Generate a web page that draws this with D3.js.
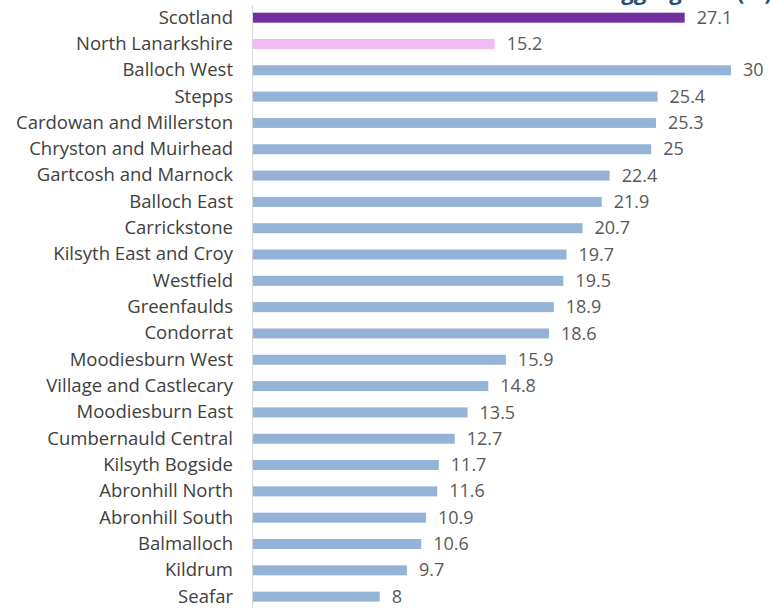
<!DOCTYPE html>
<html>
<head>
<meta charset="utf-8">
<script src="https://cdn.jsdelivr.net/npm/d3@7"></script>
<style>
  body { margin: 0; background: #fff; }
  svg { display: block; }
</style>
</head>
<body>
<script>
// data
let areas = ["Scotland", "North Lanarkshire", "Balloch West", "Stepps", "Cardowan and Millerston",
  "Chryston and Muirhead", "Gartcosh and Marnock", "Balloch East", "Carrickstone",
  "Kilsyth East and Croy", "Westfield", "Greenfaulds", "Condorrat", "Moodiesburn West",
  "Village and Castlecary", "Moodiesburn East", "Cumbernauld Central", "Kilsyth Bogside",
  "Abronhill North", "Abronhill South", "Balmalloch", "Kildrum", "Seafar"];
let values = [27.1, 15.2, 30, 25.4, 25.3, 25, 22.4, 21.9, 20.7, 19.7, 19.5, 18.9, 18.6,
  15.9, 14.8, 13.5, 12.7, 11.7, 11.6, 10.9, 10.6, 9.7, 8];
let colours = ["#7030A0", "#F4BBF2"];  // Scotland, North Lanarkshire; rest default
let barColour = "#95B3D7";

let width = 770, height = 608;
let x0 = 252;

let svg = d3.select("body").append("svg")
    .attr("width", width)
    .attr("height", height);

// title, cut off at the top edge as in the original
svg.append("text")
    .attr("x", 608)
    .attr("y", 0)
    .attr("font-family", "Open Sans, sans-serif")
    .attr("font-weight", "bold")
    .attr("font-size", 22)
    .attr("fill", "#1F4E79")
    .text("aggregated (%)");

let x = d3.scaleLinear()
    .domain([0, 30])
    .range([x0, 731]);

let y = d3.scaleBand()
    .domain(areas)
    .range([4.5, 609.8])
    .paddingInner(0.62)
    .paddingOuter(0.31);

let data = areas.map(function(a, i) { return {area: a, value: values[i], i: i}; });

svg.selectAll(".bar")
    .data(data)
    .enter().append("rect")
    .attr("class", "bar")
    .attr("x", x(0) + 1)
    .attr("y", function(d) { return y(d.area); })
    .attr("width", function(d) { return x(d.value) - x(0) - 1; })
    .attr("height", y.bandwidth())
    .attr("fill", function(d) { return d.i < 2 ? colours[d.i] : barColour; });

// category axis
let yAxis = svg.append("g")
    .attr("transform", "translate(" + x0 + ",0)")
    .call(d3.axisLeft(y).tickSize(0).tickPadding(19));
yAxis.select(".domain").attr("d", "M0.5,5V608").attr("stroke", "#D9D9D9");
yAxis.selectAll("text")
    .attr("font-family", "Open Sans, sans-serif")
    .attr("font-size", 18.5)
    .attr("fill", "#404040");

// value labels
svg.selectAll(".lbl")
    .data(data)
    .enter().append("text")
    .attr("class", "lbl")
    .attr("x", function(d) { return x(d.value) + 12; })
    .attr("y", function(d) { return y(d.area) + y.bandwidth() / 2; })
    .attr("dy", "0.34em")
    .attr("font-family", "Open Sans, sans-serif")
    .attr("font-size", 18)
    .attr("fill", "#595959")
    .text(function(d) { return d.value; });
</script>
</body>
</html>
